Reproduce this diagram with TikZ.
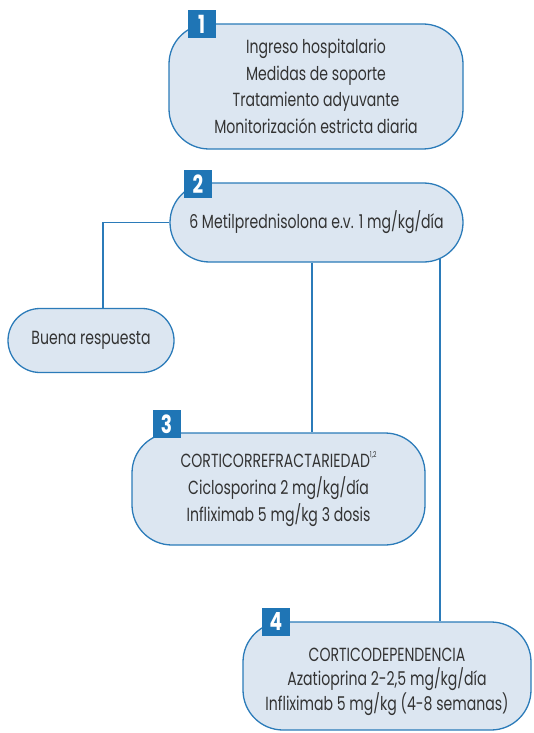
\documentclass[tikz,border=0pt]{standalone}
\usepackage{fontspec}
\setmainfont[FakeStretch=0.74]{Poppins}
\usetikzlibrary{backgrounds,calc}
\definecolor{boxfill}{HTML}{DCE6F1}
\definecolor{boxline}{HTML}{2B7BB9}
\definecolor{tagblue}{HTML}{1F75B5}
\definecolor{txt}{HTML}{333333}
\begin{document}
\begin{tikzpicture}[x=1pt,y=-1pt,
  box/.style={draw=boxline, line width=1.3pt, fill=boxfill, rounded corners=40pt, align=center, text=txt, font=\fontsize{19}{26.7}\selectfont, inner sep=0pt},
  tag/.style={fill=tagblue, text=white, minimum size=28pt, inner sep=0pt, font=\fontsize{25}{25}\selectfont\bfseries},
  link/.style={draw=boxline, line width=1.3pt}]
\useasboundingbox (0,0) rectangle (533,733);
\node[box, minimum width=294pt, minimum height=125pt] (b1) at (316,86.5)
  {Ingreso hospitalario\\Medidas de soporte\\Tratamiento adyuvante\\Monitorización estricta diaria};
\node[tag] (t1) at (201.5,24) {1};
\node[box, minimum width=293pt, minimum height=79pt, rounded corners=39.5pt] (b2) at (316.5,222.5)
  {6 Metilprednisolona e.v. 1 mg/kg/día};
\node[tag] (t2) at (198,184) {2};
\node[box, minimum width=166pt, minimum height=64pt, rounded corners=32pt] (buena) at (91,340.5)
  {Buena respuesta};
\node[box, minimum width=293pt, minimum height=112pt] (b3) at (278.5,489)
  {CORTICORREFRACTARIEDAD\raisebox{0.55em}{\fontsize{8}{8}\selectfont 1,2}\\Ciclosporina 2 mg/kg/día\\Infliximab 5 mg/kg 3 dosis};
\node[tag] (t3) at (166.5,424) {3};
\node[box, minimum width=288pt, minimum height=108pt, font=\fontsize{19}{24.5}\selectfont] (b4) at (387,676)
  {\rule{0pt}{25pt}CORTICODEPENDENCIA\\Azatioprina 2-2,5 mg/kg/día\\Infliximab 5 mg/kg (4-8 semanas)};
\node[tag] (t4) at (276,621.5) {4};
\begin{scope}[on background layer]
\draw[link] (b2.west) -| ($(buena.north)+(12,0)$);
\draw[link] (b2.south -| 312,0) -- (b3.north -| 312,0);
\draw[link] (b2.center -| 440,0) -- (b4.north -| 440,0);
\end{scope}
\end{tikzpicture}
\end{document}
